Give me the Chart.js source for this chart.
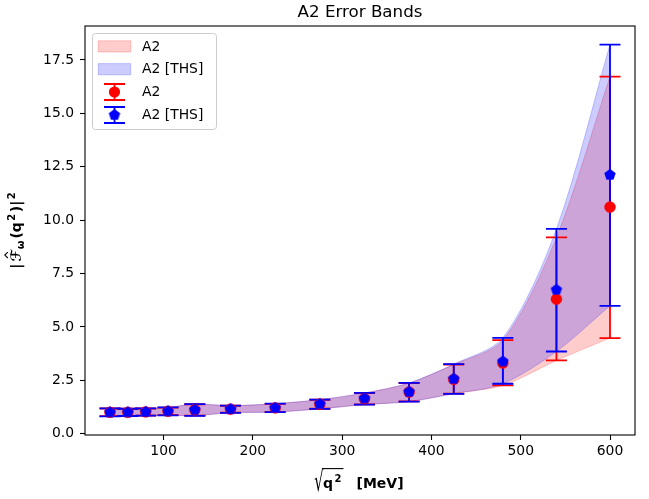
<!DOCTYPE html>
<html><head><meta charset="utf-8">
<script src="https://cdn.jsdelivr.net/npm/chart.js@4.4.1/dist/chart.umd.min.js"></script>
<style>html,body{margin:0;padding:0;background:#fff;}canvas{display:block;}</style>
</head><body>
<canvas id="c" width="649" height="499"></canvas>
<script>
// ---- data ----
const energies   = [40, 60, 80, 105, 135, 175, 225, 275, 325, 375, 425, 480, 540, 600];
const a2Central  = [1.00, 1.00, 1.02, 1.05, 1.12, 1.15, 1.21, 1.38, 1.64, 1.95, 2.54, 3.31, 6.30, 10.61];
const a2Lower    = [0.82, 0.84, 0.85, 0.87, 0.85, 0.99, 1.02, 1.17, 1.37, 1.51, 1.88, 2.26, 3.43, 4.48];
const a2Upper    = [1.18, 1.17, 1.18, 1.22, 1.38, 1.31, 1.40, 1.59, 1.90, 2.37, 3.24, 4.38, 9.19, 16.72];
const thsCentral = [1.00, 1.00, 1.02, 1.05, 1.12, 1.15, 1.21, 1.39, 1.65, 1.96, 2.57, 3.38, 6.74, 12.12];
const thsLower   = [0.81, 0.83, 0.85, 0.86, 0.84, 0.98, 1.01, 1.16, 1.36, 1.50, 1.87, 2.34, 3.85, 5.99];
const thsUpper   = [1.19, 1.17, 1.19, 1.23, 1.39, 1.32, 1.41, 1.60, 1.91, 2.38, 3.26, 4.49, 9.59, 18.22];
const xTicks = [100, 200, 300, 400, 500, 600];
const yTicks = [0, 2.5, 5, 7.5, 10, 12.5, 15, 17.5];
const seriesNames = ['A2', 'A2 [THS]'];
const chartTitle = 'A2 Error Bands';
const xLimits = [12, 628];
const yLimits = [-0.06, 19.09];

// ---- styles ----
const RED = '#ff0000', BLUE = '#0000ff';
const RED_BAND = 'rgba(255,0,0,0.2)', BLUE_BAND = 'rgba(0,0,255,0.2)';
const FONT = "'DejaVu Sans', sans-serif";
Chart.defaults.font.family = FONT;

function makePentagon(color, R) {
  const size = Math.ceil(2 * R + 2);
  const c = document.createElement('canvas');
  c.width = c.height = size;
  const g = c.getContext('2d');
  g.fillStyle = color;
  g.beginPath();
  for (let k = 0; k < 5; k++) {
    const a = -Math.PI / 2 + k * 2 * Math.PI / 5;
    const px = size / 2 + R * Math.cos(a), py = size / 2 + R * Math.sin(a);
    k ? g.lineTo(px, py) : g.moveTo(px, py);
  }
  g.closePath();
  g.fill();
  return c;
}
const pentagon = makePentagon(BLUE, 6);

const pts = (ys) => energies.map((x, i) => ({x, y: ys[i]}));
const band = (ys, color, fill, order, label) => ({
  label, data: pts(ys), type: 'line', showLine: true,
  borderColor: color, backgroundColor: color, borderWidth: 1,
  pointRadius: 0, tension: 0.3, fill, order
});

const errorSets = [
  {lo: a2Lower, hi: a2Upper, color: RED},
  {lo: thsLower, hi: thsUpper, color: BLUE}
];

const errorBarPlugin = {
  id: 'errorBars',
  beforeDatasetDraw(chart, args) {
    if (args.index !== 4) return;
    const xs = chart.scales.x, ys = chart.scales.y, ctx = chart.ctx;
    ctx.save();
    ctx.lineWidth = 1.8;
    errorSets.forEach(s => {
      ctx.strokeStyle = s.color;
      energies.forEach((e, i) => {
        const px = xs.getPixelForValue(e);
        const top = ys.getPixelForValue(s.hi[i]), bot = ys.getPixelForValue(s.lo[i]);
        ctx.beginPath();
        ctx.moveTo(px, top); ctx.lineTo(px, bot);
        ctx.moveTo(px - 10.5, top); ctx.lineTo(px + 10.5, top);
        ctx.moveTo(px - 10.5, bot); ctx.lineTo(px + 10.5, bot);
        ctx.stroke();
      });
    });
    ctx.restore();
  }
};

const framePlugin = {
  id: 'frame',
  afterDatasetsDraw(chart) {
    const a = chart.chartArea, ctx = chart.ctx;
    ctx.save();
    ctx.strokeStyle = '#000';
    ctx.lineWidth = 1.1;
    ctx.strokeRect(a.left, a.top, a.right - a.left, a.bottom - a.top);
    ctx.restore();
  }
};

const legendPlugin = {
  id: 'mplLegend',
  afterDatasetsDraw(chart) {
    const ctx = chart.ctx;
    const L = 92.5, T = 33.5, R = 216.5, B = 129.5, r = 3;
    ctx.save();
    ctx.beginPath();
    ctx.moveTo(L + r, T); ctx.lineTo(R - r, T); ctx.quadraticCurveTo(R, T, R, T + r);
    ctx.lineTo(R, B - r); ctx.quadraticCurveTo(R, B, R - r, B);
    ctx.lineTo(L + r, B); ctx.quadraticCurveTo(L, B, L, B - r);
    ctx.lineTo(L, T + r); ctx.quadraticCurveTo(L, T, L + r, T);
    ctx.closePath();
    ctx.fillStyle = 'rgba(255,255,255,0.8)';
    ctx.fill();
    ctx.strokeStyle = '#cccccc';
    ctx.lineWidth = 1;
    ctx.stroke();

    const rows = [46.4, 69.2, 92.0, 115.0];
    const hx0 = 98.3, hx1 = 130.7, hc = (hx0 + hx1) / 2, tx = 142;
    [[RED_BAND, rows[0]], [BLUE_BAND, rows[1]]].forEach(([c, y]) => {
      ctx.fillStyle = c; ctx.strokeStyle = c; ctx.lineWidth = 1;
      ctx.fillRect(hx0, y - 5.6, hx1 - hx0, 11.2);
      ctx.strokeRect(hx0, y - 5.6, hx1 - hx0, 11.2);
    });
    [[RED, rows[2], 'circle'], [BLUE, rows[3], 'pent']].forEach(([c, y, m]) => {
      ctx.strokeStyle = c; ctx.lineWidth = 1.8;
      ctx.beginPath();
      ctx.moveTo(hc, y - 8); ctx.lineTo(hc, y + 8);
      ctx.moveTo(hc - 10.5, y - 8); ctx.lineTo(hc + 10.5, y - 8);
      ctx.moveTo(hc - 10.5, y + 8); ctx.lineTo(hc + 10.5, y + 8);
      ctx.stroke();
      if (m === 'circle') {
        ctx.fillStyle = c; ctx.beginPath(); ctx.arc(hc, y, 5.6, 0, Math.PI * 2); ctx.fill();
      } else {
        ctx.drawImage(pentagon, hc - pentagon.width / 2, y - pentagon.height / 2);
      }
    });
    ctx.fillStyle = '#000';
    ctx.font = '13.9px ' + FONT;
    ctx.textBaseline = 'middle';
    ctx.textAlign = 'left';
    [seriesNames[0], seriesNames[1], seriesNames[0], seriesNames[1]].forEach((t, i) => ctx.fillText(t, tx, rows[i] + 0.5));
    ctx.restore();
  }
};

function drawRuns(ctx, runs, startX, baseline) {
  let x = startX;
  runs.forEach(r => {
    ctx.font = r.font;
    r.w = ctx.measureText(r.t).width;
    r.x = x;
    ctx.fillText(r.t, x, baseline + (r.dy || 0));
    x += r.w + (r.gap || 0);
  });
  return x;
}
function runsWidth(ctx, runs) {
  let w = 0;
  runs.forEach(r => { ctx.font = r.font; w += ctx.measureText(r.t).width + (r.gap || 0); });
  return w;
}

const textPlugin = {
  id: 'texts',
  afterDraw(chart) {
    const ctx = chart.ctx, a = chart.chartArea;
    const cx = (a.left + a.right) / 2;
    const B14 = 'bold 14px ' + FONT, B10 = 'bold 10px ' + FONT;
    ctx.save();
    ctx.fillStyle = '#000';
    ctx.strokeStyle = '#000';
    // ---- title ----
    ctx.font = '16.7px ' + FONT;
    ctx.textAlign = 'center';
    ctx.textBaseline = 'alphabetic';
    ctx.fillText(chartTitle, cx, 17);
    ctx.textAlign = 'left';
    // ---- y label: |F̂_ω(q²)|² ----
    const yRuns = [
      {t: '|', font: B14, gap: 2},
      {t: 'ℱ', font: B14, gap: 1},
      {t: 'ω', font: B10, dy: 3, gap: 2},
      {t: '(q', font: B14, gap: 1.5},
      {t: '2', font: B10, dy: -6, gap: 1.5},
      {t: ')|', font: B14, gap: 1.5},
      {t: '2', font: B10, dy: -6}
    ];
    ctx.save();
    ctx.translate(16, (a.top + a.bottom) / 2);
    ctx.rotate(-Math.PI / 2);
    const yw = runsWidth(ctx, yRuns);
    const b = 5;
    drawRuns(ctx, yRuns, -yw / 2, b);
    ctx.font = B14;
    const fr = yRuns[1];
    const asc = ctx.measureText('ℱ').actualBoundingBoxAscent || 10;
    ctx.lineWidth = 1.1;
    ctx.beginPath();
    ctx.moveTo(fr.x + fr.w * 0.32, b - asc - 1.2);
    ctx.lineTo(fr.x + fr.w * 0.58, b - asc - 4.2);
    ctx.lineTo(fr.x + fr.w * 0.84, b - asc - 1.2);
    ctx.stroke();
    ctx.restore();

    // ---- x label: √q²  [MeV] ----
    const start = cx - 45.5;
    ctx.save();
    ctx.font = '100px ' + FONT;
    const m = ctx.measureText('√');
    const gh = m.actualBoundingBoxAscent + m.actualBoundingBoxDescent;
    const gw = m.actualBoundingBoxLeft + m.actualBoundingBoxRight;
    const topY = 468, hgt = 24, wid = 9;
    const sy = hgt / gh, sx = wid / gw;
    ctx.translate(start + m.actualBoundingBoxLeft * sx, topY + m.actualBoundingBoxAscent * sy);
    ctx.scale(sx, sy);
    ctx.fillText('√', 0, 0);
    ctx.restore();
    const xb = 488;
    const xRuns = [
      {t: 'q', font: B14, gap: 1.5},
      {t: '2', font: B10, dy: -6.5, gap: 0}
    ];
    const endRad = drawRuns(ctx, xRuns, start + 8.5, xb);
    ctx.lineWidth = 1.1;
    ctx.beginPath();
    ctx.moveTo(start + wid - 0.8, topY + 0.6);
    ctx.lineTo(endRad + 2, topY + 0.6);
    ctx.stroke();
    ctx.font = B14;
    ctx.fillText('[MeV]', endRad + 15, xb);
    ctx.restore();
  }
};

new Chart(document.getElementById('c').getContext('2d'), {
  type: 'line',
  data: {
    datasets: [
      band(a2Lower, RED_BAND, false, 5, seriesNames[0] + ' band low'),
      band(a2Upper, RED_BAND, '-1', 4, seriesNames[0] + ' band'),
      band(thsLower, BLUE_BAND, false, 3, seriesNames[1] + ' band low'),
      band(thsUpper, BLUE_BAND, '-1', 2, seriesNames[1] + ' band'),
      {label: seriesNames[0], data: pts(a2Central), showLine: false, pointStyle: 'circle',
       pointRadius: 5.5, pointBackgroundColor: RED, pointBorderColor: RED, pointBorderWidth: 0.4, order: 1},
      {label: seriesNames[1], data: pts(thsCentral), showLine: false, pointStyle: pentagon,
       pointRadius: 6, pointBackgroundColor: BLUE, pointBorderColor: BLUE, order: 0}
    ]
  },
  options: {
    responsive: false,
    animation: false,
    devicePixelRatio: 1,
    layout: {padding: {left: 0, right: 14, top: 26, bottom: 0}},
    plugins: {
      legend: {display: false},
      tooltip: {enabled: false},
      title: {display: false}
    },
    scales: {
      x: {
        type: 'linear', min: xLimits[0], max: xLimits[1],
        afterBuildTicks: s => { s.ticks = xTicks.map(v => ({value: v})); },
        afterFit: s => { s.height = 64; },
        ticks: {color: '#000', font: {family: FONT, size: 13.9}, padding: 3, maxRotation: 0,
                callback: v => String(v)},
        grid: {drawOnChartArea: false, drawTicks: true, tickLength: 5, tickWidth: 1.1, tickColor: '#000'},
        border: {display: false}
      },
      y: {
        type: 'linear', min: yLimits[0], max: yLimits[1],
        afterBuildTicks: s => { s.ticks = yTicks.map(v => ({value: v})); },
        afterFit: s => { s.width = 85; },
        ticks: {color: '#000', font: {family: FONT, size: 13.9}, padding: 6,
                callback: v => Number(v).toFixed(1)},
        grid: {drawOnChartArea: false, drawTicks: true, tickLength: 5, tickWidth: 1.1, tickColor: '#000'},
        border: {display: false}
      }
    }
  },
  plugins: [errorBarPlugin, framePlugin, legendPlugin, textPlugin]
});
</script>
</body></html>
